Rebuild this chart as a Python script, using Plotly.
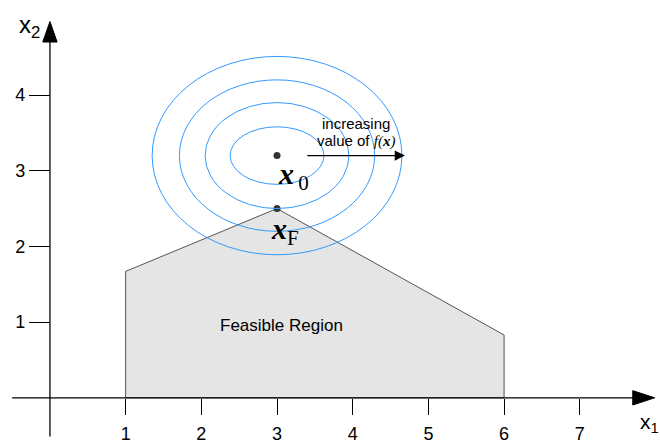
import plotly.graph_objects as go

# Feasible region vertices (x1, x2)
region_x = [1, 1, 3, 6, 6]
region_y = [0, 1.67, 2.5, 0.83, 0]

# Unconstrained optimum and feasible optimum
x0 = (3.0, 3.2)
xF = (3.0, 2.5)

# Level-set ellipses of f(x) around x0: semi-axes
ellipse_rx = [0.62, 0.95, 1.29, 1.65]
ellipse_ry = [0.38, 0.70, 1.00, 1.31]

# Axis ticks
x_ticks = [1, 2, 3, 4, 5, 6, 7]
y_ticks = [1, 2, 3, 4]

X_RANGE = [-0.66, 8.06]
Y_RANGE = [-0.61, 5.255]
SANS = "Liberation Sans, Arial, sans-serif"
SERIF = "Liberation Serif, Times New Roman, serif"

fig = go.Figure()

shapes = []

# Feasible region polygon
path = "M " + " L ".join(f"{x},{y}" for x, y in zip(region_x, region_y)) + " Z"
shapes.append(dict(type="path", path=path, xref="x", yref="y",
                   fillcolor="#e5e5e5", line=dict(color="#555555", width=1),
                   layer="below"))

# Contour ellipses
for rx, ry in zip(ellipse_rx, ellipse_ry):
    shapes.append(dict(type="circle", xref="x", yref="y",
                       x0=x0[0] - rx, x1=x0[0] + rx, y0=x0[1] - ry, y1=x0[1] + ry,
                       line=dict(color="#3399ff", width=1)))

# Coordinate axes with arrowheads
shapes.append(dict(type="line", xref="x", yref="y", x0=-0.5, x1=7.72, y0=0, y1=0,
                   line=dict(color="black", width=1.3)))
shapes.append(dict(type="path", xref="x", yref="y",
                   path="M 7.70,0.095 L 7.99,0 L 7.70,-0.095 Z",
                   fillcolor="black", line=dict(color="black", width=1)))
shapes.append(dict(type="line", xref="x", yref="y", x0=0, x1=0, y0=-0.51, y1=4.72,
                   line=dict(color="black", width=1.3)))
shapes.append(dict(type="path", xref="x", yref="y",
                   path="M -0.095,4.70 L 0,4.97 L 0.095,4.70 Z",
                   fillcolor="black", line=dict(color="black", width=1)))

# Points x0 and xF
fig.add_trace(go.Scatter(x=[x0[0], xF[0]], y=[x0[1], xF[1]], mode="markers",
                         marker=dict(size=7, color="#333333"),
                         showlegend=False, hoverinfo="skip"))

annotations = [
    # Direction of increasing f(x)
    dict(x=4.69, y=x0[1], ax=3.38, ay=x0[1], xref="x", yref="y", axref="x", ayref="y",
         text="", showarrow=True, arrowhead=2, arrowsize=1.7, arrowwidth=1.2,
         arrowcolor="black"),
    dict(x=4.05, y=3.63, xref="x", yref="y", text="increasing", showarrow=False,
         font=dict(family=SANS, size=15, color="black")),
    dict(x=4.05, y=3.39, xref="x", yref="y",
         text=f"value of <span style='font-family:{SERIF}'><i>f(<b>x</b>)</i></span>",
         showarrow=False, font=dict(family=SANS, size=15, color="black")),
    dict(x=3.06, y=0.95, xref="x", yref="y", text="Feasible Region", showarrow=False,
         font=dict(family=SANS, size=17, color="black")),
    # Point labels
    dict(x=2.99, y=2.93, xref="x", yref="y", xanchor="left", yanchor="middle",
         text="<b><i>x</i></b><sub>\u20090</sub>", showarrow=False,
         font=dict(family=SERIF, size=30, color="black")),
    dict(x=2.89, y=2.21, xref="x", yref="y", xanchor="left", yanchor="middle",
         text="<b><i>x</i></b><sub>F</sub>", showarrow=False,
         font=dict(family=SERIF, size=30, color="black")),
    # Axis titles
    dict(x=-0.43, y=4.91, xref="x", yref="y", xanchor="left", yanchor="middle",
         text="x<sub>2</sub>", showarrow=False,
         font=dict(family=SANS, size=24, color="black")),
    dict(x=7.77, y=-0.33, xref="x", yref="y", xanchor="left", yanchor="middle",
         text="x<sub>1</sub>", showarrow=False,
         font=dict(family=SANS, size=21, color="black")),
]

fig.update_layout(
    width=660, height=444, autosize=False,
    margin=dict(l=0, r=0, t=0, b=0, pad=0, autoexpand=False),
    paper_bgcolor="white", plot_bgcolor="white",
    shapes=shapes, annotations=annotations,
    showlegend=False,
    xaxis=dict(range=X_RANGE, anchor="free", automargin=False,
               position=(0 - Y_RANGE[0]) / (Y_RANGE[1] - Y_RANGE[0]),
               tickmode="array", tickvals=x_ticks, ticks="outside", ticklen=16,
               tickwidth=1.3, tickcolor="black", ticklabelstandoff=4,
               showgrid=False, zeroline=False, showline=False,
               tickfont=dict(family=SANS, size=18, color="black")),
    yaxis=dict(range=Y_RANGE, anchor="free", automargin=False,
               position=(0 - X_RANGE[0]) / (X_RANGE[1] - X_RANGE[0]),
               tickmode="array", tickvals=y_ticks, ticks="outside", ticklen=21,
               tickwidth=1.3, tickcolor="black",
               showgrid=False, zeroline=False, showline=False,
               tickfont=dict(family=SANS, size=18, color="black")),
)

fig.write_html("out.html")
